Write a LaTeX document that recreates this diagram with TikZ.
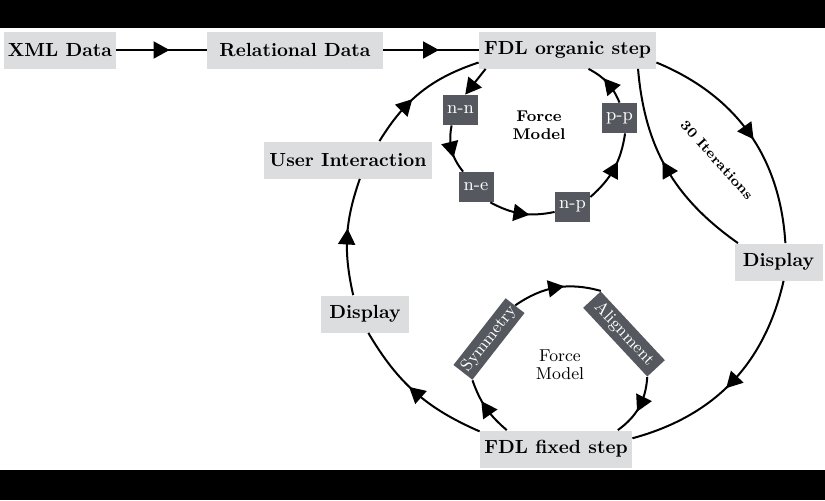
\documentclass[tikz,border=0pt]{standalone}
\usepackage{tikz}
\usetikzlibrary{arrows.meta,decorations.markings}

\definecolor{boxgray}{HTML}{DCDDDF}
\definecolor{darkbox}{HTML}{55595F}

\begin{document}
\begin{tikzpicture}[x=0.5pt,y=0.5pt]
        \tikzset{
          lbox/.style={fill=boxgray,font=\fontsize{9.5}{11}\selectfont\bfseries,
                       minimum height=18.5pt,inner xsep=2pt,inner ysep=0pt},
          fbox/.style={fill=darkbox,text=white,font=\fontsize{9}{10}\selectfont,
                       minimum width=17.5pt,minimum height=15pt,inner sep=1pt},
          rbox/.style={fill=darkbox,text=white,font=\fontsize{8.5}{10}\selectfont,
                       minimum height=12pt,inner xsep=1.5pt,inner ysep=0pt},
          EdgeStyle/.style={line width=1pt,postaction={decorate},
                       decoration={markings,mark=at position #1 with
                       {\arrow[xshift=4pt]{Triangle[length=8pt,width=8.5pt]}}}},
          EdgeStyle/.default=.5,
          EdgeEnd/.style={line width=1pt,-{Triangle[length=8pt,width=8.5pt]}}
        }

        \useasboundingbox (0,0) rectangle (825,500);
        \fill[black] (0,472) rectangle (825,500);
        \fill[black] (0,0) rectangle (825,30);

        \node[lbox,minimum width=55.5pt] (xml)   at (60,450)    {XML Data};
        \node[lbox,minimum width=88pt]   (rel)   at (295,450)   {Relational Data};
        \node[lbox,minimum width=88.5pt] (org)   at (567.5,450) {FDL organic step};
        \node[lbox,minimum width=84pt]   (ui)    at (348,340)   {User Interaction};
        \node[lbox,minimum width=44pt]   (dispR) at (778.5,238) {Display};
        \node[lbox,minimum width=44pt]   (dispL) at (365,186)   {Display};
        \node[lbox,minimum width=76pt]   (fix)   at (556,51)    {FDL fixed step};

        \node[fbox] (nn) at (460.5,390) {n-n};
        \node[fbox] (pp) at (619.5,382) {p-p};
        \node[fbox] (ne) at (476,313)   {n-e};
        \node[fbox] (np) at (572.5,293.5) {n-p};
        \node[align=center,font=\fontsize{7.8}{9}\selectfont\bfseries] (fm1) at (539,375) {Force\\Model};

        \node[rbox,minimum width=41pt,rotate=52]  (sym) at (489,161) {Symmetry};
        \node[rbox,minimum width=47pt,rotate=-47] (ali) at (624,166) {Alignment};
        \node[align=center,font=\fontsize{8.6}{9}\selectfont] (fm2) at (560,135) {Force\\Model};

        \node[font=\fontsize{7}{8}\selectfont\bfseries,rotate=-48] (iter) at (717,340) {30 Iterations};

        \draw[EdgeStyle] (xml) -- (rel);
        \draw[EdgeStyle] (rel) -- (org);
        \draw[EdgeStyle] (org.-8) to[bend left=32] (dispR.70);
        \draw[EdgeStyle] (dispR.155) to[bend left=25] (org.-15);
        \draw[EdgeStyle] (dispR.-75) to[bend left=31] (fix.8);
        \draw[EdgeStyle] (fix.167) to[bend left=18] (dispL.-80);
        \draw[EdgeStyle] (dispL.122) to[bend left=16] (ui.-58);
        \draw[EdgeStyle=.35] (ui.31) to[bend left=20] (org.188);

        \draw[EdgeEnd] (org.193) -- (nn.73);
        \draw[EdgeStyle] (nn.240) to[bend right=25] (ne.130);
        \draw[EdgeStyle] (ne.-47) to[bend right=20] (np.197);
        \draw[EdgeStyle] (np.28) to[bend right=20] (pp.-70);
        \draw[EdgeStyle=.45] (pp.north) to[bend right=20] (org.-42);

        \draw[EdgeStyle] (fix.159) to[bend left=15] (sym.south west);
        \draw[EdgeStyle] (sym.east) to[bend left=25] (ali.north west);
        \draw[EdgeStyle=.45] (ali.south east) to[bend left=25] (fix.17);
\end{tikzpicture}
\end{document}
